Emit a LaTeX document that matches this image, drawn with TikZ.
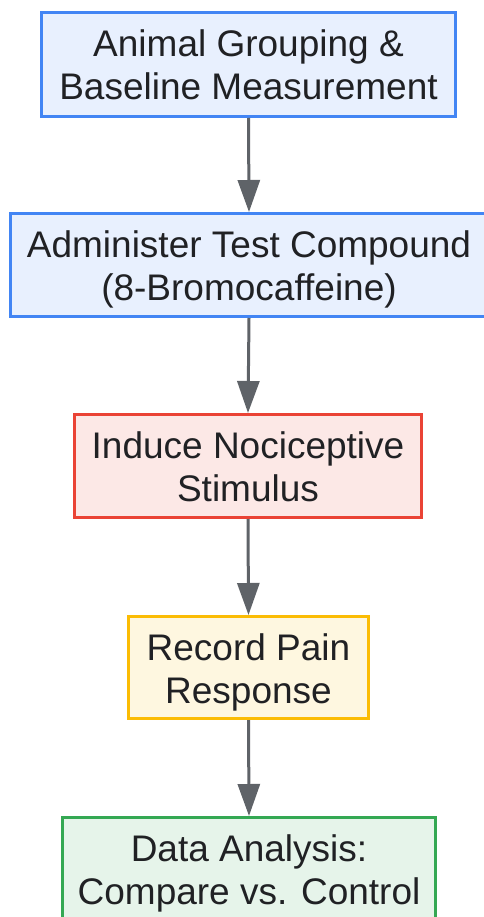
\documentclass[tikz,border=0pt]{standalone}
\usepackage{fontspec}
\setmainfont{Liberation Sans}
\usetikzlibrary{arrows.meta}
\definecolor{txt}{HTML}{202124}
\definecolor{bluefill}{HTML}{E8F0FE}
\definecolor{blueline}{HTML}{4285F4}
\definecolor{redfill}{HTML}{FCE8E6}
\definecolor{redline}{HTML}{EA4335}
\definecolor{yelfill}{HTML}{FEF7E0}
\definecolor{yelline}{HTML}{FBBC04}
\definecolor{grnfill}{HTML}{E6F4EA}
\definecolor{grnline}{HTML}{34A853}
\definecolor{arrowgray}{HTML}{5F6368}
\tikzset{
  box/.style={rectangle, line width=3pt, align=center, text=txt,
    font=\fontsize{37}{43}\selectfont, inner sep=0pt,
    text height=81pt, text depth=10pt},
  bluebox/.style={box, draw=blueline, fill=bluefill},
  redbox/.style={box, draw=redline, fill=redfill},
  yelbox/.style={box, draw=yelline, fill=yelfill},
  grnbox/.style={box, draw=grnline, fill=grnfill},
  flow/.style={draw=arrowgray, line width=3pt, -{Triangle[length=32pt,width=22pt]}}
}
\begin{document}
\begin{tikzpicture}[x=1pt,y=-1pt]
\useasboundingbox (0,0) rectangle (483,917);
\node[bluebox, minimum width=414pt, minimum height=104pt] (n1) at (248.5,64.5) {Animal Grouping \&\\Baseline Measurement};
\node[bluebox, minimum width=477pt, minimum height=103pt] (n2) at (249,265) {Administer Test Compound\\(8-Bromocaffeine)};
\node[redbox, minimum width=347pt, minimum height=103pt] (n3) at (248,466) {Induce Nociceptive\\Stimulus};
\node[yelbox, minimum width=240pt, minimum height=102pt] (n4) at (248.5,667.5) {Record Pain\\Response};
\node[grnbox, minimum width=373pt, minimum height=103pt] (n5) at (249,869) {Data Analysis:\\Compare vs. Control};
\draw[flow] (n1.south) -- (n2.north);
\draw[flow] (n2.south) -- (n3.north);
\draw[flow] (n3.south) -- (n4.north);
\draw[flow] (n4.south) -- (n5.north);
\end{tikzpicture}
\end{document}
